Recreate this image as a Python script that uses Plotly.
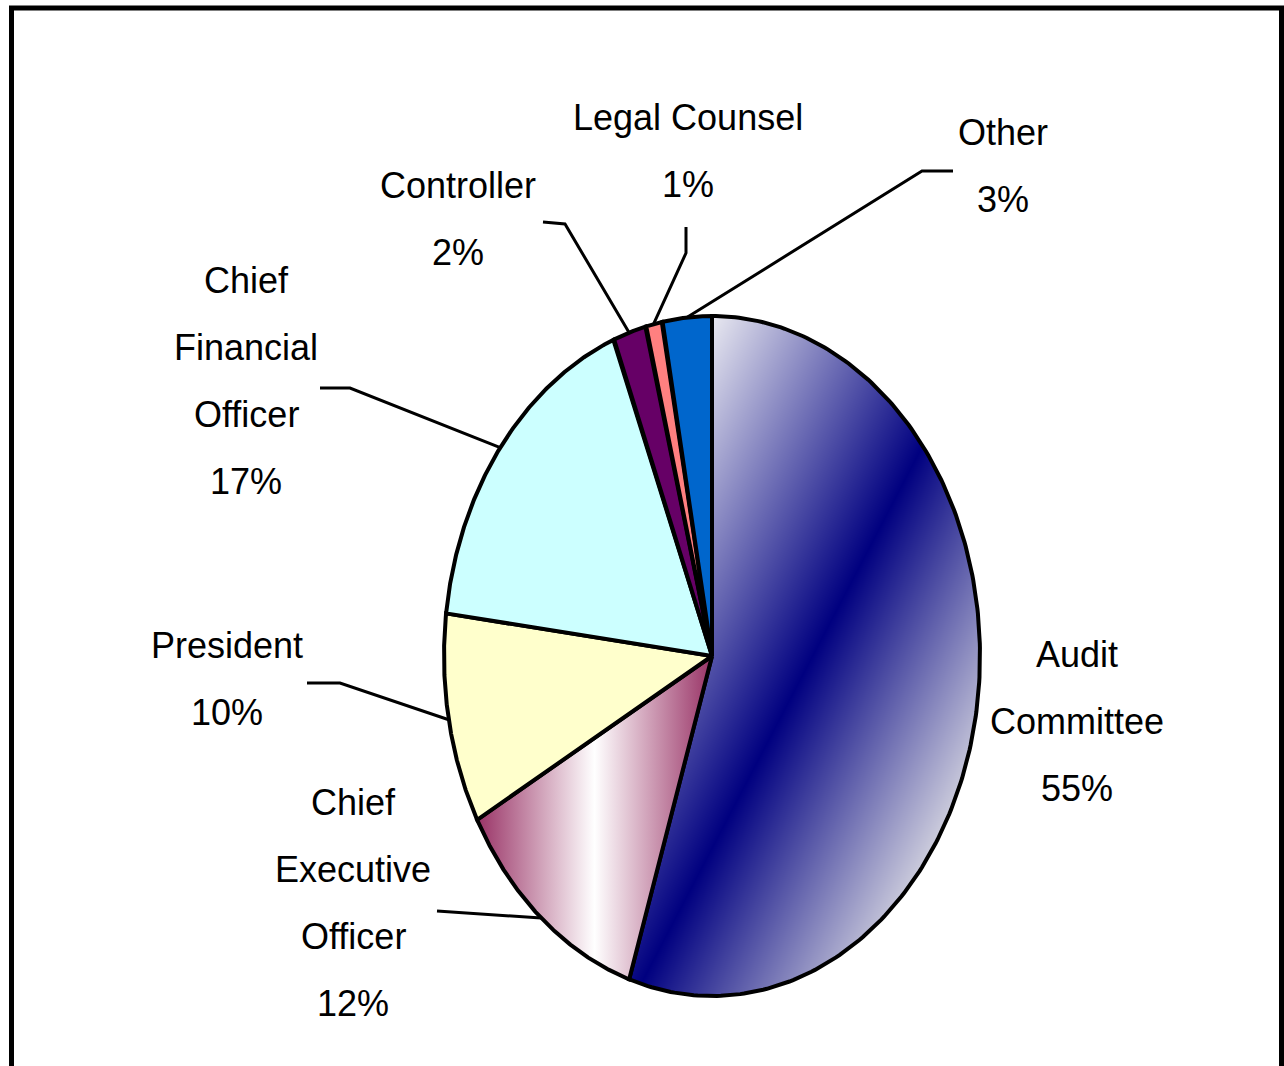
import numpy as np
import plotly.graph_objects as go

# Who the internal audit function reports to
categories = ["Audit Committee", "Chief Executive Officer", "President",
              "Chief Financial Officer", "Controller", "Legal Counsel", "Other"]
shares = [55, 12, 10, 17, 2, 1, 3]
label_lines = [["Audit", "Committee"], ["Chief", "Executive", "Officer"], ["President"],
               ["Chief", "Financial", "Officer"], ["Controller"], ["Legal Counsel"], ["Other"]]

# ---- layout / style (pixel space of the page) ----
W, H = 1284, 1066
CX, CY, RX, RY = 712, 656, 268, 340          # elliptical pie
solid_colors = [None, None, "#FFFFCC", "#CCFFFF", "#660066", "#FF8080", "#0066CC"]
label_pos = [(1077, 654), (353, 802), (227, 645), (246, 280), (458, 185), (688, 117), (1003, 132)]
line_step = 67
leader_start = [None, [(437, 911)], [(307, 683), (340, 683)], [(320, 388), (350, 388)],
                [(543, 222), (565, 224)], [(686, 227), (686, 253)], [(953, 171), (922, 171)]]
FONT = dict(family="Liberation Sans, Arial", size=36, color="#000000")


def arc(a0, a1, n=240):
    th = np.radians(np.linspace(a0, a1, n))
    return CX + RX * np.sin(th), CY - RY * np.cos(th)


total = float(sum(shares))
bounds = np.concatenate([[0.0], np.cumsum(shares) / total * 360.0])

fig = go.Figure()

# Audit Committee slice: diagonal navy gradient rendered as a fine heatmap
a0, a1 = bounds[0], bounds[1]
gx = np.arange(CX - RX - 2, CX + RX + 3, 2.0)
gy = np.arange(CY - RY - 2, CY + RY + 3, 2.0)
XX, YY = np.meshgrid(gx, gy)
u = (XX - CX) / RX
v = -(YY - CY) / RY
ang = np.degrees(np.arctan2(u, v)) % 360.0
inside = (u ** 2 + v ** 2 <= 1.0) & (ang >= a0) & (ang <= a1)
p0 = np.array([645.0, 975.0])
p1 = np.array([925.0, 440.0])
d = p1 - p0
nrm = np.array([-d[1], d[0]]) / np.hypot(*d)
nrm = -nrm if nrm[0] < 0 else nrm
dist = (XX - p0[0]) * nrm[0] + (YY - p0[1]) * nrm[1]
z = np.where(inside, dist, np.nan)
zmin, zmax = -250.0, 200.0
mid = -zmin / (zmax - zmin)
fig.add_trace(go.Heatmap(
    x=gx, y=gy, z=z, zmin=zmin, zmax=zmax, zsmooth="best", showscale=False, hoverinfo="skip",
    colorscale=[[0, "#ECECF2"], [mid, "#000080"], [1, "#D0D0DE"]]))

# remaining slices
for i in range(len(shares)):
    a0, a1 = bounds[i], bounds[i + 1]
    ax_, ay_ = arc(a0, a1)
    px = np.concatenate([[CX], ax_, [CX]])
    py = np.concatenate([[CY], ay_, [CY]])
    if i == 0:
        fill_kw = dict(fill="none")
    elif i == 1:
        fill_kw = dict(fill="toself", fillgradient=dict(
            type="horizontal", colorscale=[[0, "#993366"], [0.5, "#FFFFFF"], [1, "#993366"]]))
    else:
        fill_kw = dict(fill="toself", fillcolor=solid_colors[i])
    fig.add_trace(go.Scatter(x=px, y=py, mode="lines", line=dict(color="black", width=4),
                             hoverinfo="skip", showlegend=False, **fill_kw))

# leader lines and labels
for i in range(len(shares)):
    mid_a = np.radians((bounds[i] + bounds[i + 1]) / 2)
    ex, ey = CX + RX * np.sin(mid_a), CY - RY * np.cos(mid_a)
    if leader_start[i]:
        pts = leader_start[i] + [(ex, ey)]
        fig.add_trace(go.Scatter(x=[p[0] for p in pts], y=[p[1] for p in pts], mode="lines",
                                 line=dict(color="black", width=3), hoverinfo="skip", showlegend=False))
    lx, ly = label_pos[i]
    lines = label_lines[i] + [f"{shares[i]}%"]
    for k, t in enumerate(lines):
        fig.add_annotation(x=lx, y=ly + k * line_step, text=t, showarrow=False,
                           xanchor="center", yanchor="middle", font=FONT)

# frame
frame = dict(type="line", xref="x", yref="y", line=dict(color="black", width=5))
fig.add_shape(x0=9, y0=8, x1=W, y1=8, **frame)
fig.add_shape(x0=11.5, y0=6, x1=11.5, y1=H, **frame)
fig.add_shape(x0=1281.5, y0=6, x1=1281.5, y1=H, **frame)

fig.update_layout(
    width=W, height=H, autosize=False, margin=dict(l=0, r=0, t=0, b=0),
    paper_bgcolor="white", plot_bgcolor="white", showlegend=False,
    xaxis=dict(range=[0, W], visible=False, fixedrange=True),
    yaxis=dict(range=[H, 0], visible=False, fixedrange=True),
)
fig.write_html("out.html")
